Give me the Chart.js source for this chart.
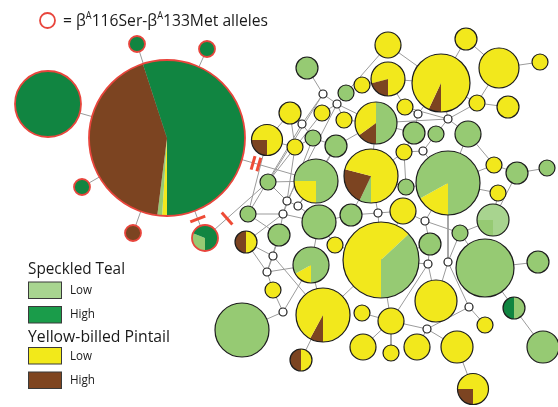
<!DOCTYPE html>
<html>
<head>
<meta charset="utf-8">
<script src="https://cdn.jsdelivr.net/npm/chart.js@4/dist/chart.umd.min.js"></script>
<style>
  html, body { margin: 0; padding: 0; background: #ffffff; }
  #wrap { width: 558px; height: 407px; }
</style>
</head>
<body>
<div id="wrap"><canvas id="net" width="558" height="407"></canvas></div>
<script>
// Haplotypes of the beta-A globin network (A* = Ser116/Met133 allele group)
const haplotypes = [
  'A0','A1','A2','A3','A4','A5','A6',
  'n1','n2','n3','n4','n5','n6','n7','n8','n9','n10',
  'n11','n12','n13','n14','n15','n16','n17','n18','n19','n20',
  'n21','n22','n23','n24','n25','n26','n27','n28','n29','n30',
  'n31','n32','n33','n34','n35','n36','n37','n38','n39','n40',
  'n41','n42','n43','n44','n45','n46','n47','n48','n49','n50',
  'n51','n52','n53','n54','n55','n56','n57','n58','n59','n60',
  'n61','n62','n63','n64','n65','n66','n67','n68','n69','n70',
  'n71','n72','n73','n74','n75','n76','n77','n78','n79','n80'
];

// Share (%) of each haplotype by species and altitude
const stLow = [
  1,0,0,0,0,0,31,
  100,0,0,0,0,0,0,0,0,100,
  0,0,0,0,0,0,0,0,0,50,
  0,100,100,100,100,100,0,0,0,0,
  75,7,83,100,0,100,100,0,100,0,
  0,0,100,100,100,100,0,0,0,100,
  0,100,100,0,0,83,37,100,100,0,
  0,0,0,0,100,0,0,0,0,0,
  0,0,0,0,0,0,0,50,100,0
];
const stHigh = [
  55,100,100,100,100,0,69,
  0,0,0,0,0,0,0,0,0,0,
  0,0,0,0,0,0,0,0,0,0,
  0,0,0,0,0,0,0,0,0,0,
  0,0,0,0,0,0,0,0,0,0,
  0,0,0,0,0,0,0,0,0,0,
  0,0,0,0,0,0,0,0,0,0,
  0,0,0,0,0,0,0,0,0,0,
  0,0,0,0,0,0,0,50,0,0
];
const ybLow = [
  1,0,0,0,0,0,0,
  0,100,100,100,100,93,79,100,0,0,
  0,100,0,100,100,100,100,0,100,35,
  0,0,0,0,0,0,100,100,0,75,
  25,71,17,0,100,0,0,100,0,0,
  0,0,0,0,0,0,0,100,0,0,
  100,0,0,50,0,17,63,0,0,0,
  0,0,100,0,0,92,50,100,100,100,
  100,100,0,100,100,100,0,0,0,75
];
const ybHigh = [
  43,0,0,0,0,100,0,
  0,0,0,0,0,7,21,0,0,0,
  0,0,0,0,0,0,0,0,0,15,
  0,0,0,0,0,0,0,0,0,25,
  0,22,0,0,0,0,0,0,0,0,
  0,0,0,0,0,0,0,0,0,0,
  0,0,0,50,0,0,0,0,0,0,
  0,0,0,0,0,8,50,0,0,0,
  0,0,0,0,0,0,0,0,0,25
];

// Network links between haplotypes (one mutational step each)
const links = [
  ['A0','A1'],['A0','A2'],['A0','A3'],['A0','A4'],['A0','A5'],['A0','A6'],
  ['A0','n31'],['A6','n43'],
  ['n1','n9'],['n9','n18'],['n9','n11'],['n10','n11'],['n10','n8'],['n8','n7'],
  ['n7','n6'],['n2','n6'],['n2','n10'],['n3','n6'],['n3','n4'],['n4','n5'],
  ['n4','n14'],['n6','n14'],['n14','n15'],['n6','n13'],['n6','n21'],['n13','n12'],
  ['n12','n7'],['n21','n14'],['n21','n24'],['n13','n22'],['n21','n23'],['n22','n20'],
  ['n22','n28'],['n23','n29'],['n29','n33'],['n28','n32'],['n11','n20'],['n11','n17'],
  ['n16','n18'],['n18','n25'],['n19','n20'],['n19','n11'],['n25','n26'],['n26','n20'],
  ['n25','n27'],['n27','n30'],['n30','n16'],['n26','n31'],['n31','n43'],['n43','n40'],
  ['n40','n41'],['n41','n45'],['n40','n42'],['n42','n44'],['n42','n54'],['n50','n55'],
  ['n45','n46'],['n46','n32'],['n46','n47'],['n47','n48'],['n47','n32'],['n48','n49'],
  ['n49','n53'],['n49','n33'],['n34','n32'],['n34','n33'],['n34','n28'],['n33','n35'],
  ['n35','n36'],['n36','n37'],['n33','n38'],['n38','n39'],['n39','n52'],['n52','n60'],
  ['n53','n61'],['n61','n57'],['n61','n74'],['n61','n69'],['n60','n74'],['n60','n77'],
  ['n33','n60'],['n52','n58'],['n58','n59'],['n58','n78'],['n78','n79'],['n77','n76'],
  ['n77','n73'],['n73','n72'],['n73','n75'],['n73','n69'],['n75','n80'],['n69','n68'],
  ['n69','n70'],['n69','n71'],['n69','n57'],['n57','n66'],['n66','n67'],['n66','n56'],
  ['n66','n55'],['n62','n56'],['n63','n64'],['n64','n65'],['n64','n56'],['n54','n55'],
  ['n45','n56'],['n51','n45'],['n51','n57'],['n18','n44'],['n17','n43'],['n25','n42'],
  ['n26','n41'],['n28','n29'],['n24','n33'],['n62','n54'],['n62','n63'],['n44','n50'],
  ['n55','n62'],['n9','n43'],['n11','n40'],['n47','n57'],['n20','n32'],
  ['n27','n40'],['n30','n44'],['n16','n27'],['n41','n31'],['n42','n50'],['n50','n62'],
  ['n45','n42'],['n48','n57'],['n36','n39'],['n35','n24'],['n53','n57'],['n52','n49'],
  ['n20','n21'],['n12','n21']
];

// Links crossed by marks: [from, to, position along link, number of bars]
const linkMarks = [['A0','A6',0.81,1],['A6','n43',0.35,1],['A0','n31',0.597,2]];

// Layout: network coordinates, node radius, clockwise slice order starting at 6 o'clock
const layout = {
  A0:[167,138,78,'yl sl yh sh'], A1:[48,104,33], A2:[137,44,8], A3:[207,49,8],
  A4:[82,187,8], A5:[133,233,8], A6:[205,238,13,'sl sh'],
  n1:[307,68,11], n2:[388,45,13], n3:[466,39,11], n4:[499,68,20], n5:[540,62,8],
  n6:[441,83,29], n7:[388,79,17], n8:[362,85,8], n9:[323,94,4], n10:[346,93,8],
  n11:[337,104,4], n12:[405,107,8], n13:[418,114,4], n14:[477,103,8], n15:[508,107,11],
  n16:[290,113,11], n17:[322,113,8], n18:[302,124,4], n19:[344,120,8], n20:[376,123,21],
  n21:[448,119,4], n22:[414,133,11], n23:[436,134,8], n24:[468,134,13], n25:[313,138,8],
  n26:[336,146,11], n27:[295,147,8], n28:[404,152,8], n29:[423,151,4], n30:[267,140,15.5],
  n31:[316,181,22,'yl sl'], n32:[371,176,27,'sl yh yl'], n33:[448,183,32,'yl sl'],
  n34:[406,187,8], n35:[494,165,8], n36:[517,173,11], n37:[547,168,8], n38:[498,193,8],
  n39:[493,220,16], n40:[287,201,4], n41:[298,206,4], n42:[283,214,4], n43:[268,182,8],
  n44:[248,214,8], n45:[319,222,17], n46:[351,215,11], n47:[378,213,4], n48:[403,211,13],
  n49:[425,221,4], n50:[279,235,11], n51:[335,245,8], n52:[460,233,8], n53:[430,244,11],
  n54:[246,242,11], n55:[273,256,4], n56:[311,265,18,'yl sl'], n57:[381,260,38,'yl sl'],
  n58:[485,268,29], n59:[538,262,11], n60:[448,262,4], n61:[428,264,4], n62:[267,272,4],
  n63:[273,290,8], n64:[283,312,4], n65:[242,330,27], n66:[323,315,27], n67:[301,360,11],
  n68:[362,313,8], n69:[391,321,13], n70:[363,347,13], n71:[391,353,8], n72:[417,347,13],
  n73:[427,329,4], n74:[436,301,21], n75:[457,347,16], n76:[485,325,8], n77:[469,307,4],
  n78:[514,308,11,'sh sl'], n79:[543,347,16], n80:[473,389,15.5]
};
const alleleGroup = ['A0','A1','A2','A3','A4','A5','A6'];
const paleNodes = { n39: 0.25 };   // lighter shading after the first quarter

const sliceColors = { sl:'#96ca73', sh:'#118541', yl:'#f2e81c', yh:'#7c4421' };
const legendColors = { sl:'#a8d590', sh:'#1a9c4a', yl:'#f2e91a', yh:'#7f4520' };
const RED = '#e8453c';

const nodePoints = haplotypes.map(id => ({ x: layout[id][0], y: layout[id][1], r: layout[id][2] }));
const isAllele = haplotypes.map(id => alleleGroup.includes(id));

const linkSets = links.map(([a, b]) => ({
  type: 'scatter',
  showLine: true,
  data: [{ x: layout[a][0], y: layout[a][1] }, { x: layout[b][0], y: layout[b][1] }],
  borderColor: '#9b9b9b',
  borderWidth: 1,
  pointRadius: 0,
  order: 2,
  clip: false
}));

function sliceList(i) {
  const id = haplotypes[i];
  const vals = { sl: stLow[i], sh: stHigh[i], yl: ybLow[i], yh: ybHigh[i] };
  const seq = (layout[id][3] || 'yh yl sl sh').split(' ');
  const total = seq.reduce((s, k) => s + vals[k], 0);
  return { seq, vals, total };
}

const piePlugin = {
  id: 'pieNodes',
  beforeDatasetDraw(chart, args) {
    if (args.index !== 0) return;
    const ctx = chart.ctx;
    const meta = chart.getDatasetMeta(0);
    meta.data.forEach((el, i) => {
      const r = el.options.radius;
      const { seq, vals, total } = sliceList(i);
      ctx.save();
      if (total === 0) {
        ctx.beginPath(); ctx.arc(el.x, el.y, r, 0, Math.PI * 2);
        ctx.fillStyle = '#ffffff'; ctx.fill();
        ctx.restore();
        return;
      }
      let a = Math.PI / 2;
      seq.forEach(k => {
        if (!vals[k]) return;
        const span = vals[k] / total * Math.PI * 2;
        ctx.beginPath();
        ctx.moveTo(el.x, el.y);
        ctx.arc(el.x, el.y, r, a, a + span);
        ctx.closePath();
        ctx.fillStyle = sliceColors[k];
        ctx.fill();
        a += span;
      });
      const pale = paleNodes[haplotypes[i]];
      if (pale) {
        ctx.beginPath();
        ctx.moveTo(el.x, el.y);
        ctx.arc(el.x, el.y, r, Math.PI / 2 + pale * Math.PI * 2, Math.PI / 2 + Math.PI * 2);
        ctx.closePath();
        ctx.fillStyle = '#a8d48f';
        ctx.fill();
      }
      ctx.restore();
    });
  },
  afterDatasetsDraw(chart) {
    const ctx = chart.ctx;
    const xs = chart.scales.x, ys = chart.scales.y;
    linkMarks.forEach(([a, b, t, n]) => {
      const x1 = xs.getPixelForValue(layout[a][0]), y1 = ys.getPixelForValue(layout[a][1]);
      const x2 = xs.getPixelForValue(layout[b][0]), y2 = ys.getPixelForValue(layout[b][1]);
      const dx = x2 - x1, dy = y2 - y1, len = Math.hypot(dx, dy);
      const ux = dx / len, uy = dy / len, px = -uy, py = ux;
      for (let k = 0; k < n; k++) {
        const off = (k - (n - 1) / 2) * 6;
        const cx = x1 + dx * t + ux * off, cy = y1 + dy * t + uy * off;
        const h = n > 1 ? 7 : 8;
        ctx.save();
        ctx.strokeStyle = '#ee4b36';
        ctx.lineWidth = 3;
        ctx.beginPath();
        ctx.moveTo(cx - px * h, cy - py * h);
        ctx.lineTo(cx + px * h, cy + py * h);
        ctx.stroke();
        ctx.restore();
      }
    });
  },
  afterDraw(chart) {
    const ctx = chart.ctx;
    const FONT = '"Open Sans", "Noto Sans", sans-serif';
    // Allele key
    ctx.save();
    ctx.strokeStyle = RED; ctx.lineWidth = 1.8;
    ctx.beginPath(); ctx.arc(47.5, 20.5, 7.5, 0, Math.PI * 2); ctx.stroke();
    const parts = [['= \u03B2', false], ['A', true], ['116Ser-\u03B2', false], ['A', true], ['133Met alleles', false]];
    const big = '17px ' + FONT, small = '10px ' + FONT;
    let w = 0;
    parts.forEach(([t, sup]) => { ctx.font = sup ? small : big; w += ctx.measureText(t).width; });
    const sc = (268 - 63) / w;
    ctx.translate(63, 26);
    ctx.scale(sc, 1);
    ctx.fillStyle = '#1a1a1a';
    let x = 0;
    parts.forEach(([t, sup]) => {
      ctx.font = sup ? small : big;
      ctx.fillText(t, x, sup ? -7 : 0);
      x += ctx.measureText(t).width;
    });
    ctx.restore();

    // Species / altitude legend
    const fitText = (t, x0, base, width, font) => {
      ctx.save();
      ctx.font = font;
      const m = ctx.measureText(t).width;
      ctx.translate(x0, base);
      ctx.scale(width / m, 1);
      ctx.fillStyle = '#1a1a1a';
      ctx.fillText(t, 0, 0);
      ctx.restore();
    };
    fitText('Speckled Teal', 28, 274, 97, '16px ' + FONT);
    fitText('Yellow-billed Pintail', 28, 342, 142, '16px ' + FONT);
    const boxes = [['sl', 282, 'Low', 294], ['sh', 306.5, 'High', 318], ['yl', 347.5, 'Low', 360], ['yh', 372, 'High', 383.5]];
    boxes.forEach(([k, top, label, base]) => {
      ctx.save();
      ctx.fillStyle = legendColors[k];
      ctx.fillRect(28.5, top, 33, 16.5);
      ctx.strokeStyle = '#3a3a3a'; ctx.lineWidth = 1;
      ctx.strokeRect(28.5, top, 33, 16.5);
      ctx.restore();
      fitText(label, 70, base, label === 'Low' ? 22 : 25, '12px ' + FONT);
    });
  }
};

new Chart(document.getElementById('net'), {
  type: 'bubble',
  data: {
    datasets: [{
      type: 'bubble',
      data: nodePoints,
      backgroundColor: 'rgba(0,0,0,0)',
      borderColor: isAllele.map(a => a ? RED : '#1d1d1d'),
      borderWidth: isAllele.map(a => a ? 1.8 : 1.2),
      order: 0,
      clip: false
    }, ...linkSets]
  },
  options: {
    responsive: false,
    animation: false,
    devicePixelRatio: 1,
    events: [],
    layout: { padding: 0, autoPadding: false },
    plugins: { legend: { display: false }, tooltip: { enabled: false }, title: { display: false } },
    scales: {
      x: { type: 'linear', min: 0, max: 558, display: false },
      y: { type: 'linear', min: 0, max: 407, reverse: true, display: false }
    }
  },
  plugins: [piePlugin]
});
</script>
</body>
</html>
